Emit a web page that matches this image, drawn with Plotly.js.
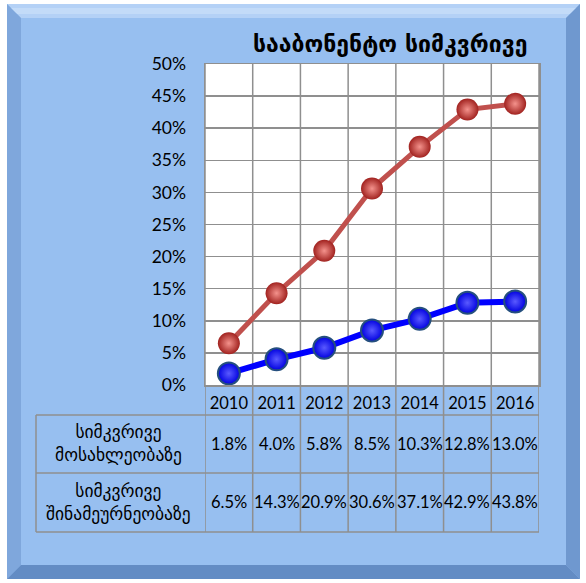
<!DOCTYPE html>
<html><head><meta charset="utf-8">
<script src="https://cdn.plot.ly/plotly-3.0.1.min.js"></script>
<style>body{margin:0;padding:0;background:#fff}#c{width:586px;height:583px}</style>
</head><body><div id="c"></div>
<script>
const years = ['2010','2011','2012','2013','2014','2015','2016'];
const popDensity = [0.018, 0.040, 0.058, 0.085, 0.103, 0.128, 0.130];
const hhDensity = [0.065, 0.143, 0.209, 0.306, 0.371, 0.429, 0.438];
const popLabels = ['1.8%','4.0%','5.8%','8.5%','10.3%','12.8%','13.0%'];
const hhLabels = ['6.5%','14.3%','20.9%','30.6%','37.1%','42.9%','43.8%'];
const rowNames = ['სიმკვრივე<br>მოსახლეობაზე','სიმკვრივე<br>შინამეურნეობაზე'];
const titleText = 'სააბონენტო სიმკვრივე';

const W=586,H=583,L=205,R=539,T=64,B=385;
const px = x => (x-L)/(R-L);
const py = y => (B-y)/(B-T);
const idx = years.map((_,i)=>i);
const numFont = 'Lato, "Liberation Sans", sans-serif';
const geoFont = '"DejaVu Sans", sans-serif';
const gridCol = '#8f8f8f';

const shapes = [];
function rect(x0,y0,x1,y1,fill,layer){shapes.push({type:'rect',xref:'paper',yref:'paper',x0:px(x0),x1:px(x1),y0:py(y0),y1:py(y1),fillcolor:fill,line:{width:0},layer:layer||'below'});}
function poly(pts,fill){shapes.push({type:'path',xref:'paper',yref:'paper',path:'M'+pts.map(p=>px(p[0])+','+py(p[1])).join(' L')+' Z',fillcolor:fill,line:{width:0},layer:'below'});}
// panel
const X0=7,Y0=4,X1=580,Y1=579,bw=14;
rect(X0,Y0,X1,Y1,'#97bff0');
poly([[X0,Y0],[X1,Y0],[X1-bw,Y0+bw],[X0+bw,Y0+bw]],'#b4d1f6');
poly([[X0,Y0+4],[X1,Y0+4],[X1-bw+4,Y0+bw-4],[X0+bw-4,Y0+bw-4]],'#c3dbf8');
poly([[X0,Y0],[X0+bw,Y0+bw],[X0+bw,Y1-bw],[X0,Y1]],'#7fa7dc');
poly([[X1,Y0],[X1,Y1],[X1-bw,Y1-bw],[X1-bw,Y0+bw]],'#6f98cf');
poly([[X0,Y1],[X0+bw,Y1-bw],[X1-bw,Y1-bw],[X1,Y1]],'#638cc4');
rect(L,T,R,B,'#ffffff');
// table / grid lines
function hline(x0,x1,y){shapes.push({type:'line',xref:'paper',yref:'paper',x0:px(x0),x1:px(x1),y0:py(y),y1:py(y),line:{color:gridCol,width:1.5},layer:'below'});}
hline(36,R,415);hline(36,R,473);hline(36,R,532);
shapes.push({type:'line',xref:'paper',yref:'paper',x0:px(36),x1:px(36),y0:py(415),y1:py(532),line:{color:gridCol,width:1.5},layer:'below'});
for(let i=0;i<=years.length;i++){
  shapes.push({type:'line',xref:'x',yref:'paper',x0:i-0.5,x1:i-0.5,y0:py(T),y1:py(532),line:{color:gridCol,width:1.5},layer:'below'});
}

const annotations=[];
annotations.push({text:'<b>'+titleText+'</b>',xref:'paper',yref:'paper',x:px(390),y:py(44),showarrow:false,font:{family:geoFont,size:23,color:'#000'},xanchor:'center',yanchor:'middle'});
const rowsY=[444,502];
[popLabels,hhLabels].forEach((lab,r)=>{
  annotations.push({text:rowNames[r],xref:'paper',yref:'paper',x:px(118),y:py(rowsY[r]),showarrow:false,font:{family:geoFont,size:17.5,color:'#000'},xanchor:'center',yanchor:'middle',align:'center'});
  lab.forEach((t,i)=>annotations.push({text:t,xref:'x',yref:'paper',x:idx[i],y:py(rowsY[r]),showarrow:false,font:{family:numFont,size:16.5,color:'#000'},xanchor:'center',yanchor:'middle'}));
});

const traces=[
 {x:idx,y:hhDensity,type:'scatter',mode:'lines+markers',line:{color:'#c0504d',width:5},
  marker:{size:22,color:'#a1221f',gradient:{type:'radial',color:'#f4928c'},line:{width:0}},hoverinfo:'skip'},
 {x:idx,y:popDensity,type:'scatter',mode:'lines+markers',line:{color:'#0000ff',width:6},
  marker:{size:22,color:'#0000e0',gradient:{type:'radial',color:'#5a5aff'},line:{width:2,color:'#254f7e'}},hoverinfo:'skip'}
];
const layout={width:W,height:H,margin:{l:L,r:W-R,t:T,b:H-B},paper_bgcolor:'#ffffff',plot_bgcolor:'rgba(0,0,0,0)',showlegend:false,
 xaxis:{range:[-0.5,6.5],tickvals:idx,ticktext:years,showgrid:false,ticks:'',showline:true,linecolor:gridCol,linewidth:1.5,mirror:true,
   tickfont:{family:numFont,size:16.5,color:'#000'},ticklabelstandoff:3,zeroline:false,fixedrange:true},
 yaxis:{range:[0,0.5],dtick:0.05,tickformat:'.0%',showgrid:true,gridcolor:gridCol,gridwidth:1.5,ticks:'',showline:true,linecolor:gridCol,linewidth:1.5,mirror:true,
   tickfont:{family:numFont,size:17.5,color:'#000'},ticklabelstandoff:14,zeroline:false,fixedrange:true},
 shapes:shapes,annotations:annotations};
Plotly.newPlot('c',traces,layout,{staticPlot:true});
</script></body></html>
